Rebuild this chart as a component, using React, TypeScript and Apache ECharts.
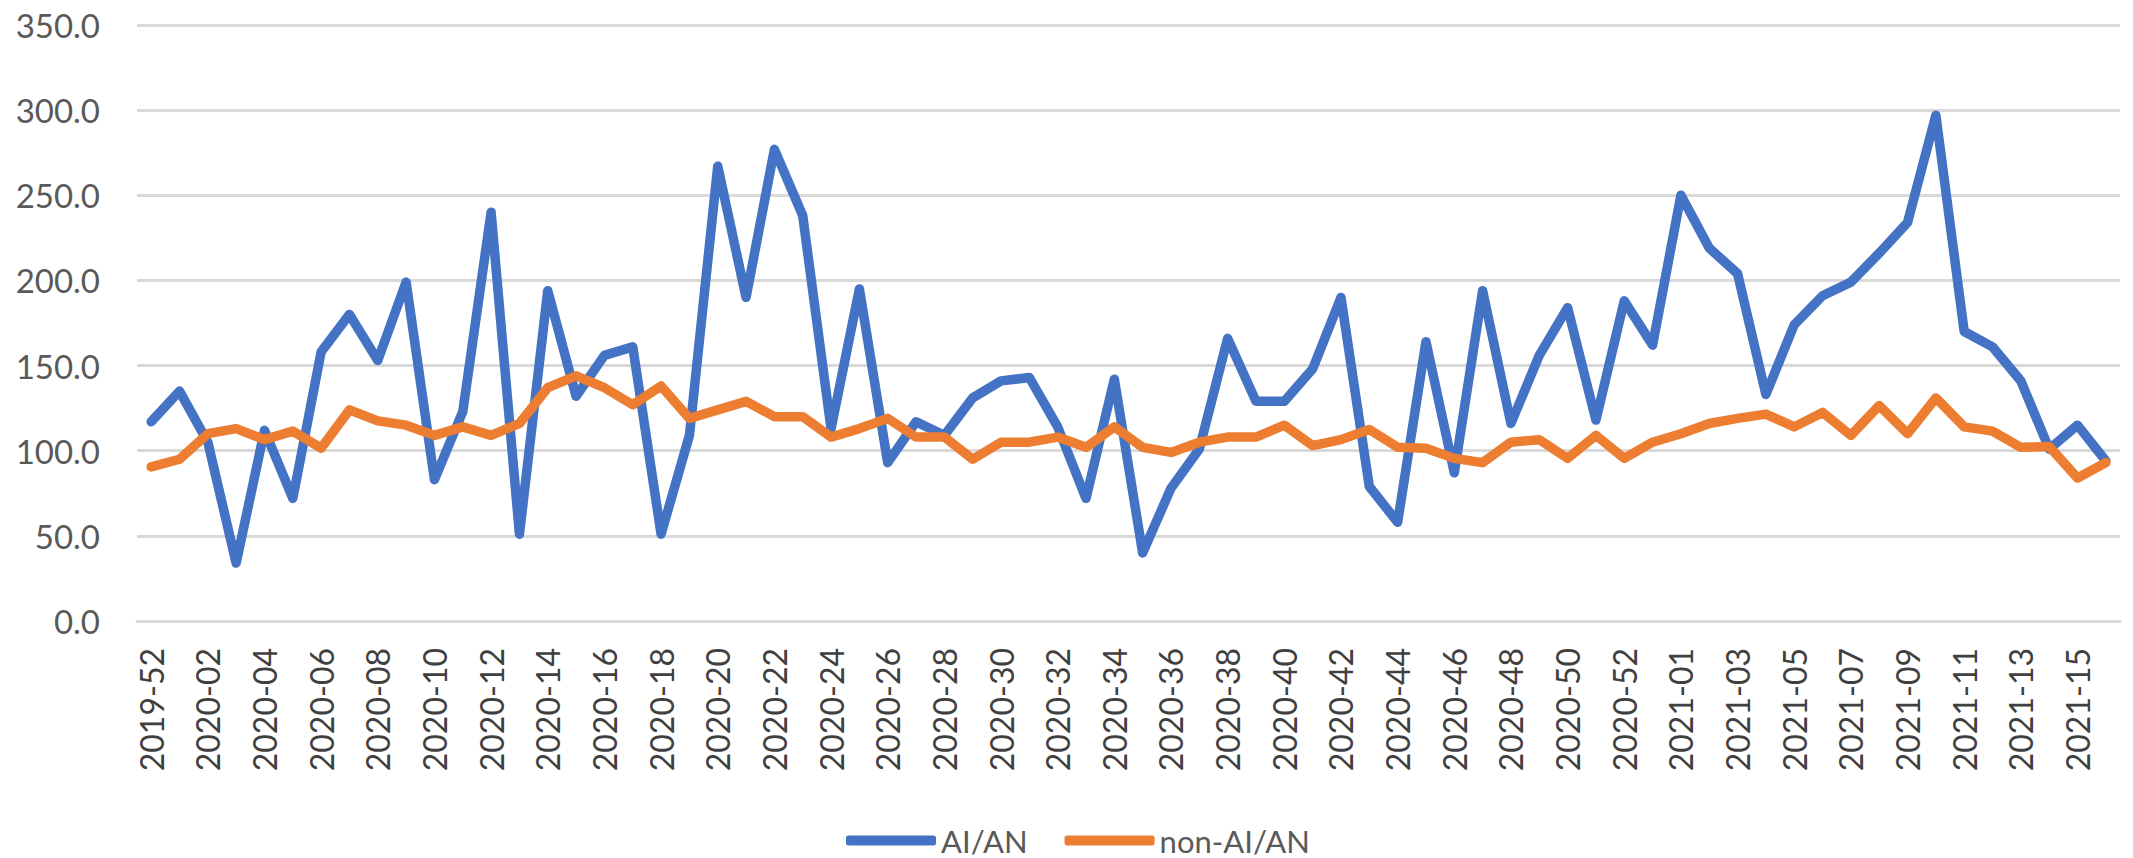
import React, { useEffect, useRef } from "react";
import * as echarts from "echarts";

const categories: string[] = [
  "2019-52",
  "2020-01", "2020-02", "2020-03", "2020-04", "2020-05", "2020-06", "2020-07", "2020-08", "2020-09", "2020-10",
  "2020-11", "2020-12", "2020-13", "2020-14", "2020-15", "2020-16", "2020-17", "2020-18", "2020-19", "2020-20",
  "2020-21", "2020-22", "2020-23", "2020-24", "2020-25", "2020-26", "2020-27", "2020-28", "2020-29", "2020-30",
  "2020-31", "2020-32", "2020-33", "2020-34", "2020-35", "2020-36", "2020-37", "2020-38", "2020-39", "2020-40",
  "2020-41", "2020-42", "2020-43", "2020-44", "2020-45", "2020-46", "2020-47", "2020-48", "2020-49", "2020-50",
  "2020-51", "2020-52", "2020-53",
  "2021-01", "2021-02", "2021-03", "2021-04", "2021-05", "2021-06", "2021-07", "2021-08", "2021-09", "2021-10",
  "2021-11", "2021-12", "2021-13", "2021-14", "2021-15", "2021-16",
];

const aianValues: number[] = [
  117, 135, 105, 34, 112, 72, 158, 180, 153, 199,
  83, 123, 240, 51, 194, 132, 156, 161, 51, 109,
  267, 190, 277, 238, 113, 195, 93, 117, 109, 131,
  141, 143, 114, 72, 142, 40, 78, 101, 166, 129,
  129, 148, 190, 79, 58, 164, 87, 194, 116, 156,
  184, 118, 188, 162, 250, 219, 204, 133, 174, 191,
  199, 216, 234, 297, 170, 161, 141, 101, 115, 94,
];

const nonAianValues: number[] = [
  90.5, 95, 110, 113, 106.5, 111.5, 101.5, 124, 117.5, 115,
  109, 114, 109, 116, 137, 144, 137, 127, 138, 119,
  124, 129, 120, 120, 108, 113, 119, 108, 108, 95,
  105, 105, 108, 102, 114, 102, 99, 105, 108, 108,
  115, 103, 106.5, 112.5, 102, 101.5, 95.5, 93, 105, 106.5,
  95.5, 109, 95.5, 105, 110, 116, 119, 121.5, 114, 122.5,
  109, 126.5, 110, 131, 114, 111.5, 102, 102.5, 84, 93,
];

const seriesNames: string[] = ["AI/AN", "non-AI/AN"];

export default function App() {
  const ref = useRef<HTMLDivElement>(null);

  useEffect(() => {
    if (!ref.current) return;
    const chart = echarts.init(ref.current, undefined, { renderer: "svg" });
    const font = "Lato, 'Open Sans', sans-serif";
    chart.setOption({
      animation: false,
      backgroundColor: "#ffffff",
      grid: { left: 137, right: 13, top: 25, bottom: 237, containLabel: false },
      legend: {
        data: seriesNames,
        left: 841,
        top: 820,
        itemWidth: 90,
        itemHeight: 10,
        itemGap: 37,
        icon: "roundRect",
        textStyle: { fontFamily: font, fontSize: 31, color: "#595959" },
      },
      xAxis: {
        type: "category",
        data: categories,
        boundaryGap: true,
        axisLine: { show: true, lineStyle: { color: "#D9D9D9", width: 3 } },
        axisTick: { show: false },
        axisLabel: {
          interval: 1,
          rotate: 90,
          margin: 27,
          fontFamily: font,
          fontSize: 32,
          color: "#404040",
        },
        splitLine: { show: false },
      },
      yAxis: {
        type: "value",
        min: 0,
        max: 350,
        interval: 50,
        axisLine: { show: false },
        axisTick: { show: false },
        splitLine: { lineStyle: { color: "#D9D9D9", width: 3 } },
        axisLabel: {
          formatter: (v: number) => v.toFixed(1),
          margin: 37,
          fontFamily: font,
          fontSize: 33,
          color: "#595959",
        },
      },
      series: [
        {
          name: seriesNames[0],
          type: "line",
          data: aianValues,
          symbol: "none",
          color: "#4472C4",
          lineStyle: { color: "#4472C4", width: 9.5, join: "round", cap: "round" },
        },
        {
          name: seriesNames[1],
          type: "line",
          data: nonAianValues,
          symbol: "none",
          color: "#ED7D31",
          lineStyle: { color: "#ED7D31", width: 9.5, join: "round", cap: "round" },
        },
      ],
    });
    return () => chart.dispose();
  }, []);

  return (
    <div
      ref={ref}
      style={{ position: "fixed", left: 0, top: 0, width: 2133, height: 858, background: "#fff" }}
    />
  );
}
